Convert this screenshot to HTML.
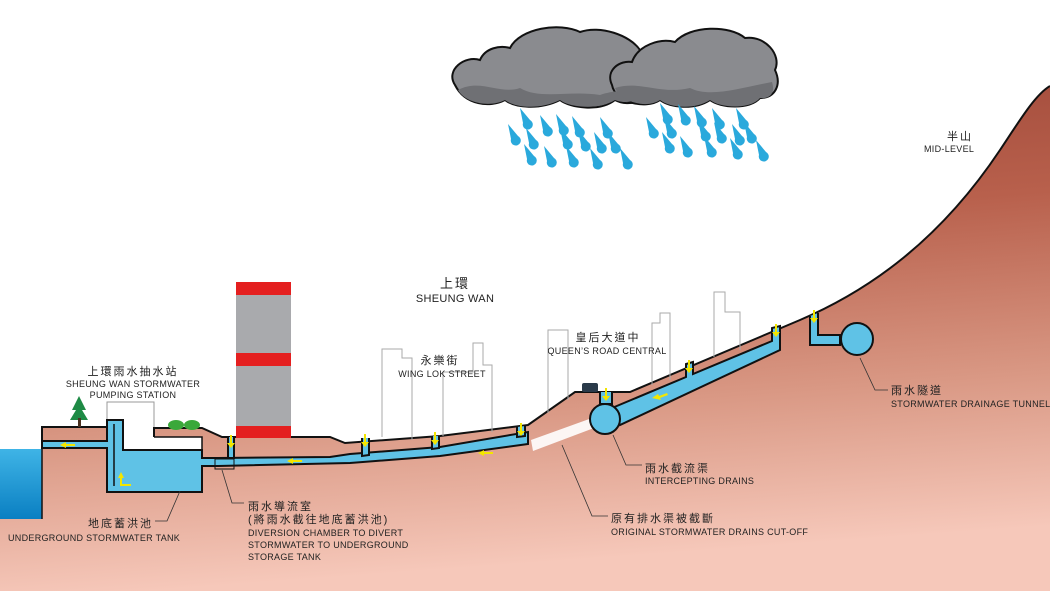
<!DOCTYPE html>
<html><head><meta charset="utf-8"><style>
html,body{margin:0;padding:0;background:#fff}
svg{display:block}
text{font-family:"Liberation Sans","Noto Sans CJK TC",sans-serif;fill:#222}
.e{font-size:9px;letter-spacing:0.3px}
.c{font-size:11px;letter-spacing:2px}
</style></head><body>
<svg width="1050" height="591" viewBox="0 0 1050 591" xmlns="http://www.w3.org/2000/svg">
<defs>
<linearGradient id="earth" x1="0" y1="0" x2="0.15" y2="1">
<stop offset="0" stop-color="#9c4536"/>
<stop offset="0.35" stop-color="#b8604c"/>
<stop offset="0.7" stop-color="#d99884"/>
<stop offset="1" stop-color="#f6c8ba"/>
</linearGradient>
<linearGradient id="sea" x1="0" y1="0" x2="0" y2="1">
<stop offset="0" stop-color="#3fb4e6"/><stop offset="1" stop-color="#0a7fc2"/>
</linearGradient>
<g id="ar"><rect x="-1" y="-8" width="2" height="9" fill="#f3e600"/><path d="M-4,0 L4,0 L0,5 Z" fill="#f3e600"/></g>
<g id="d1"><path d="M0,0 L10,12 A5,5 0 1 1 3,15 Z" fill="#2aa9dc"/></g>
</defs>

<!-- earth -->
<path d="M42,427 L107,427 L107,402 L154,402 L154,428 L202,428 L222,437 L330,437 L345,443 L440,436 L528,425 L575,392 L630,392 L800,320 C870,290 940,240 1000,150 C1020,120 1035,95 1050,86 L1050,591 L0,591 L0,518 L42,518 Z" fill="url(#earth)"/>
<path d="M0,449 L42,449 L42,519 L0,519 Z" fill="url(#sea)"/>
<path d="M42,449 L42,519" stroke="#111" stroke-width="1.5"/>
<!-- white building / open areas -->
<rect x="107" y="402" width="47" height="48" fill="#fff"/>
<rect x="154" y="437" width="48" height="13" fill="#fff"/>
<path d="M107,427 L107,402 L154,402 L154,428" fill="none" stroke="#999" stroke-width="1"/>
<!-- ground outline -->
<path d="M42,449 L42,427 L107,427 M154,437 L154,428 L202,428 L222,437 L330,437 L345,443 L440,436 L528,425 L575,392 L630,392 L800,320 C870,290 940,240 1000,150 C1020,120 1035,95 1050,86" fill="none" stroke="#111" stroke-width="2"/>
<path d="M154,437 L202,437 L202,450" fill="none" stroke="#111" stroke-width="1.5"/>
<!-- cut-off white band -->
<path d="M531,440 L592,418 L594,428 L533,451 Z" fill="#fff" opacity="0.9"/>

<!-- background buildings -->
<g fill="none" stroke="#aaa" stroke-width="1">
<path d="M382,437 L382,349 L402,349 L402,358 L412,358 L412,440"/>
<path d="M443,436 L443,372 L473,372 L473,343 L483,343 L483,365 L492,365 L492,432"/>
<path d="M548,413 L548,330 L568,330 L568,400"/>
<path d="M652,385 L652,323 L660,323 L660,313 L670,313 L670,380"/>
<path d="M714,357 L714,292 L725,292 L725,312 L740,312 L740,350"/>
</g>

<!-- tower -->
<rect x="236" y="282" width="55" height="156" fill="#a9aaad"/>
<rect x="236" y="282" width="55" height="13" fill="#e41f1f"/>
<rect x="236" y="353" width="55" height="13" fill="#e41f1f"/>
<rect x="236" y="426" width="55" height="12" fill="#e41f1f"/>
<!-- tree & bushes -->
<path d="M79,396 L72,410 L76,410 L70,420 L88,420 L82,410 L86,410 Z" fill="#1e8a45"/>
<rect x="78" y="418" width="3" height="9" fill="#4a3020"/>
<ellipse cx="176" cy="425" rx="8" ry="5" fill="#3aa83a"/><ellipse cx="192" cy="425" rx="8" ry="5" fill="#3aa83a"/>
<!-- car -->
<rect x="582" y="383" width="16" height="9" rx="2" fill="#2a3a4a"/>

<!-- pipes -->
<g fill="#5fc2e6" stroke="#111" stroke-width="2" stroke-linejoin="miter">
<path d="M42,441 L107,441 L107,420 L123,420 L123,450 L202,450 L202,458 L218,458 L330,457 L350,454 L440,447 L528,432 L528,444 L440,456 L350,463 L218,466 L202,466 L202,492 L107,492 L107,448 L42,448 Z"/>
<path d="M228,437 L228,458 L234,458 L234,437" />
<path d="M362,438 L362,456 L369,455 L369,438"/>
<path d="M432,436 L432,449 L439,448 L439,436"/>
<path d="M517,427 L517,437 L525,436 L525,426"/>
<path d="M600,392 L600,404 L612,404 L612,392"/>
<path d="M612,408 L686,377 L686,364 L693,362 L693,374 L772,341 L772,328 L780,326 L780,350 L620,425 Z"/>
<circle cx="605" cy="419" r="15"/>
<path d="M810,316 L810,345 L840,345 L840,335 L818,335 L818,313"/>
<circle cx="857" cy="339" r="16"/>
</g>
<path d="M114,424 L114,486" stroke="#111" stroke-width="1.5"/>
<rect x="215" y="459" width="19" height="10" fill="none" stroke="#111" stroke-width="1"/>
<!-- arrows -->
<g>
<use href="#ar" x="231" y="443"/><use href="#ar" x="365" y="442"/><use href="#ar" x="435" y="440"/>
<use href="#ar" x="521" y="431"/><use href="#ar" x="606" y="396"/><use href="#ar" x="689" y="368"/>
<use href="#ar" x="776" y="332"/><use href="#ar" x="814" y="318"/>
</g>
<g fill="#f3e600">
<path d="M60,445 L66,442 L66,444 L75,444 L75,446 L66,446 L66,448 Z"/>
<path d="M287,461 L293,458 L293,460 L302,460 L302,462 L293,462 L293,464 Z"/>
<path d="M478,453 L484,450 L484,452 L493,452 L493,454 L484,454 L484,456 Z"/>
<path d="M652,398 L658,394 L659,396 L667,393 L668,395 L660,398 L661,400 Z"/>
<path d="M118,478 L121,472 L124,478 L122,478 L122,484 L131,484 L131,486 L120,486 L120,478 Z"/>
</g>

<!-- leader lines -->
<g fill="none" stroke="#333" stroke-width="0.8">
<path d="M180,491 L167,521 L155,521"/>
<path d="M222,470 L232,503 L244,503"/>
<path d="M562,445 L592,516 L608,516"/>
<path d="M613,435 L626,465 L642,465"/>
<path d="M860,358 L875,390 L888,390"/>
</g>

<!-- clouds -->
<g stroke="#111" stroke-width="2" fill="#8a8b8f">
<path d="M455,85 C445,70 465,55 480,60 C485,48 500,45 510,48 C520,28 560,22 580,32 C600,25 630,35 640,50 C655,55 655,75 648,85 C650,100 630,108 615,100 C600,112 570,108 560,100 C540,110 515,108 505,100 C490,108 465,105 455,85 Z"/>
<path d="M612,85 C605,70 620,60 632,62 C638,45 660,38 675,42 C690,25 730,25 745,38 C765,35 782,55 775,70 C782,85 775,98 760,98 C750,110 720,108 710,100 C695,110 670,108 660,100 C645,110 615,102 612,85 Z"/>
</g>
<g fill="#6f7074"><path d="M458,90 C480,78 500,95 520,88 C540,100 570,90 600,95 C620,88 640,92 645,88 C640,103 625,104 615,100 C600,110 570,108 560,100 C540,110 515,108 505,100 C490,108 465,103 458,90 Z"/>
<path d="M615,88 C640,80 660,95 690,88 C710,98 740,88 772,82 C776,95 768,99 760,98 C750,110 720,108 710,100 C695,110 670,108 660,100 C645,110 620,100 615,88 Z"/></g>
<!-- rain -->
<g>
<use href="#d1" x="520" y="108"/><use href="#d1" x="540" y="115"/><use href="#d1" x="556" y="114"/><use href="#d1" x="572" y="116"/><use href="#d1" x="600" y="117"/>
<use href="#d1" x="508" y="124"/><use href="#d1" x="526" y="128"/><use href="#d1" x="560" y="128"/><use href="#d1" x="578" y="130"/><use href="#d1" x="594" y="132"/><use href="#d1" x="608" y="132"/>
<use href="#d1" x="524" y="144"/><use href="#d1" x="544" y="146"/><use href="#d1" x="566" y="146"/><use href="#d1" x="590" y="148"/><use href="#d1" x="620" y="148"/>
<use href="#d1" x="660" y="103"/><use href="#d1" x="678" y="104"/><use href="#d1" x="694" y="106"/><use href="#d1" x="712" y="108"/><use href="#d1" x="736" y="108"/>
<use href="#d1" x="646" y="117"/><use href="#d1" x="664" y="117"/><use href="#d1" x="698" y="120"/><use href="#d1" x="714" y="122"/><use href="#d1" x="732" y="124"/><use href="#d1" x="744" y="122"/>
<use href="#d1" x="662" y="132"/><use href="#d1" x="680" y="136"/><use href="#d1" x="704" y="136"/><use href="#d1" x="730" y="138"/><use href="#d1" x="756" y="140"/>
</g>

<!-- labels -->
<text class="c" x="947" y="140" font-size="10">半山</text>
<text class="e" x="924" y="152" font-size="8">MID-LEVEL</text>
<text class="c" x="455" y="288" text-anchor="middle" style="font-size:13px">上環</text>
<text class="e" x="455" y="302" text-anchor="middle" style="font-size:11px">SHEUNG WAN</text>
<text class="c" x="440" y="364" text-anchor="middle">永樂街</text>
<text class="e" x="442" y="377" text-anchor="middle">WING LOK STREET</text>
<text class="c" x="608" y="341" text-anchor="middle">皇后大道中</text>
<text class="e" x="607" y="354" text-anchor="middle">QUEEN’S ROAD CENTRAL</text>
<text class="c" x="133" y="375" text-anchor="middle">上環雨水抽水站</text>
<text class="e" x="133" y="387" text-anchor="middle">SHEUNG WAN STORMWATER</text>
<text class="e" x="133" y="398" text-anchor="middle">PUMPING STATION</text>
<text class="c" x="88" y="527">地底蓄洪池</text>
<text class="e" x="8" y="541">UNDERGROUND STORMWATER TANK</text>
<text class="c" x="248" y="510">雨水導流室</text>
<text class="c" x="248" y="523">(將雨水截往地底蓄洪池)</text>
<text class="e" x="248" y="536">DIVERSION CHAMBER TO DIVERT</text>
<text class="e" x="248" y="548">STORMWATER TO UNDERGROUND</text>
<text class="e" x="248" y="560">STORAGE TANK</text>
<text class="c" x="645" y="472">雨水截流渠</text>
<text class="e" x="645" y="484">INTERCEPTING DRAINS</text>
<text class="c" x="611" y="522">原有排水渠被截斷</text>
<text class="e" x="611" y="535">ORIGINAL STORMWATER DRAINS CUT-OFF</text>
<text class="c" x="891" y="394">雨水隧道</text>
<text class="e" x="891" y="407">STORMWATER DRAINAGE TUNNEL</text>
</svg>
</body></html>
